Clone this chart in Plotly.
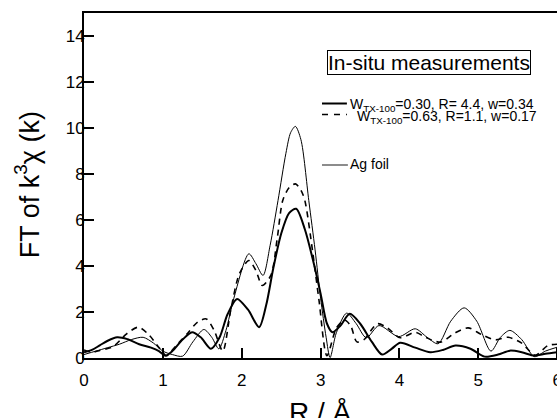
import plotly.graph_objects as go

# W_TX-100 = 0.30 (thick solid)
r_030 = [0, 0.1, 0.2, 0.3, 0.42, 0.55, 0.7, 0.85, 0.95, 1.03, 1.12, 1.25, 1.37, 1.48, 1.61,
         1.72, 1.82, 1.94, 2.08, 2.22, 2.31, 2.4, 2.5, 2.6, 2.69, 2.8, 2.9, 3.0, 3.08, 3.15,
         3.25, 3.37, 3.5, 3.65, 3.78, 3.9, 4.01, 4.2, 4.39, 4.55, 4.71, 4.9, 5.08, 5.25, 5.4,
         5.55, 5.71, 5.85, 6.0]
ft_030 = [0.25, 0.35, 0.55, 0.75, 0.9, 0.82, 0.6, 0.45, 0.3, 0.1, 0.3, 0.8, 1.12, 0.9, 0.4,
          0.9, 1.9, 2.57, 2.1, 1.34, 2.3, 3.9, 5.4, 6.3, 6.49, 5.6, 4.3, 2.8, 1.5, 1.12,
          1.4, 1.92, 1.5, 0.7, 0.15, 0.4, 0.66, 0.45, 0.25, 0.35, 0.54, 0.4, 0.06, 0.15, 0.32,
          0.25, 0.1, 0.18, 0.25]

# W_TX-100 = 0.63 (dashed)
r_063 = [0, 0.1, 0.2, 0.37, 0.54, 0.69, 0.83, 0.95, 1.05, 1.12, 1.2, 1.32, 1.44, 1.55, 1.65,
         1.76, 1.86, 1.97, 2.09, 2.18, 2.26, 2.37, 2.45, 2.52, 2.6, 2.68, 2.75, 2.8, 2.9, 2.98,
         3.08, 3.2, 3.3, 3.38, 3.46, 3.55, 3.72, 3.85, 4.01, 4.2, 4.33, 4.52, 4.7, 4.87, 5.04,
         5.21, 5.38, 5.55, 5.72, 5.88, 6.0]
ft_063 = [0.35, 0.25, 0.33, 0.5, 1.05, 1.34, 0.98, 0.45, 0.1, 0.35, 0.65, 1.1, 1.56, 1.7, 1.2,
          0.3, 2.07, 3.66, 4.24, 3.8, 3.15, 3.6, 5.2, 6.85, 7.4, 7.57, 7.3, 6.85, 4.6, 2.5,
          0.1, 1.3, 1.65, 1.41, 0.7, 0.8, 1.49, 1.3, 0.88, 1.12, 0.9, 0.69, 1.08, 1.31, 1.02,
          0.79, 0.9, 0.65, 0.12, 0.54, 0.6]

# Ag foil (thin solid)
r_ag = [0, 0.15, 0.3, 0.45, 0.6, 0.75, 0.88, 1.0, 1.12, 1.25, 1.38, 1.52, 1.62, 1.71, 1.8,
        1.9, 2.09, 2.18, 2.27, 2.36, 2.46, 2.56, 2.62, 2.68, 2.75, 2.85, 2.93, 3.0, 3.07, 3.12,
        3.2, 3.33, 3.45, 3.58, 3.74, 3.99, 4.2, 4.35, 4.49, 4.65, 4.82, 4.98, 5.16, 5.28, 5.4,
        5.55, 5.71, 5.85, 6.0]
ft_ag = [0.15, 0.3, 0.45, 0.6, 0.8, 0.9, 0.65, 0.3, 0.15, 0.08, 0.7, 1.24, 0.9, 0.4, 1.2,
         2.6, 4.53, 4.1, 3.59, 4.9, 6.85, 8.9, 9.8, 10.07, 9.5, 6.85, 4.7, 2.6, 0.9, 0.02,
         1.1, 1.95, 1.5, 0.88, 1.41, 0.93, 1.27, 0.9, 0.62, 1.6, 2.18, 1.6, 0.3, 0.9, 1.2,
         0.8, 0.06, 0.3, 0.47]

x_ticks = [0, 1, 2, 3, 4, 5, 6]
y_ticks = [0, 2, 4, 6, 8, 10, 12, 14]

FONT = "Liberation Sans, Arial, sans-serif"

fig = go.Figure()
fig.add_trace(go.Scatter(x=r_ag, y=ft_ag, mode="lines", line=dict(color="black", width=1, shape="spline", smoothing=0.8)))
fig.add_trace(go.Scatter(x=r_063, y=ft_063, mode="lines", line=dict(color="black", width=1.6, dash="6px,5px", shape="spline", smoothing=0.8)))
fig.add_trace(go.Scatter(x=r_030, y=ft_030, mode="lines", line=dict(color="black", width=2, shape="spline", smoothing=0.8)))

# figure is a bit wider than the window so the "6" tick gets cut like in the original
L, R, T, B = 84, 0, 13, 60
W, H = 562, 418
pw, ph = W - L - R, H - T - B


def px(x):
    return (x - L) / pw


def py(y):
    return (H - B - y) / ph


# legend drawn by hand
fig.add_annotation(x=px(430.5), y=py(62), xref="paper", yref="paper", xanchor="center", yanchor="middle",
                   text="In-situ measurements", showarrow=False,
                   font=dict(size=21, color="black", family=FONT),
                   bordercolor="black", borderwidth=1, borderpad=0, bgcolor="white")
fig.add_shape(type="line", xref="paper", yref="paper", x0=px(323), x1=px(348), y0=py(103.5), y1=py(103.5),
              line=dict(color="black", width=2))
fig.add_shape(type="line", xref="paper", yref="paper", x0=px(323), x1=px(348), y0=py(114.5), y1=py(114.5),
              line=dict(color="black", width=1.6, dash="6px,6px"))
fig.add_shape(type="line", xref="paper", yref="paper", x0=px(323), x1=px(349), y0=py(165), y1=py(165),
              line=dict(color="#666666", width=1.5))
fig.add_annotation(x=px(349), y=py(105), xref="paper", yref="paper", xanchor="left", yanchor="middle",
                   showarrow=False, text="W<sub>TX-100</sub>=0.30, R= 4.4, w=0.34",
                   font=dict(size=14, color="black", family=FONT))
fig.add_annotation(x=px(356), y=py(116.5), xref="paper", yref="paper", xanchor="left", yanchor="middle",
                   showarrow=False, text="W<sub>TX-100</sub>=0.63, R=1.1, w=0.17",
                   font=dict(size=14, color="black", family=FONT))
fig.add_annotation(x=px(349), y=py(164), xref="paper", yref="paper", xanchor="left", yanchor="middle",
                   showarrow=False, text="Ag foil", font=dict(size=14, color="black", family=FONT))
# axis titles
fig.add_annotation(x=px(27), y=py(185), xref="paper", yref="paper", xanchor="center", yanchor="middle",
                   showarrow=False, textangle=-90, text="FT of k<sup>3</sup>χ (k)",
                   font=dict(size=27, color="black", family=FONT))
fig.add_annotation(x=px(321), y=py(395), xref="paper", yref="paper", xanchor="center", yanchor="top",
                   showarrow=False, text="R / Å", font=dict(size=28, color="black", family=FONT))

fig.update_layout(
    width=W, height=H,
    margin=dict(l=L, r=R, t=T, b=B),
    paper_bgcolor="white", plot_bgcolor="white",
    showlegend=False,
    font=dict(family=FONT, color="black"),
    xaxis=dict(range=[0, pw / 79.2], tickvals=x_ticks, ticks="inside", ticklen=10, tickwidth=2,
               tickcolor="black", showline=True, linecolor="black", linewidth=2, mirror=True,
               showgrid=False, zeroline=False, tickfont=dict(size=17), ticklabelstandoff=6,
               ticklabeloverflow="allow"),
    yaxis=dict(range=[0, 15], tickvals=y_ticks, ticks="inside", ticklen=10, tickwidth=2,
               tickcolor="black", showline=True, linecolor="black", linewidth=2,
               showgrid=False, zeroline=False, tickfont=dict(size=17), ticklabelstandoff=-6),
)

fig.write_html("out.html", config={"displayModeBar": False},
               post_script="document.body.style.margin='0';document.body.style.overflow='hidden';")
